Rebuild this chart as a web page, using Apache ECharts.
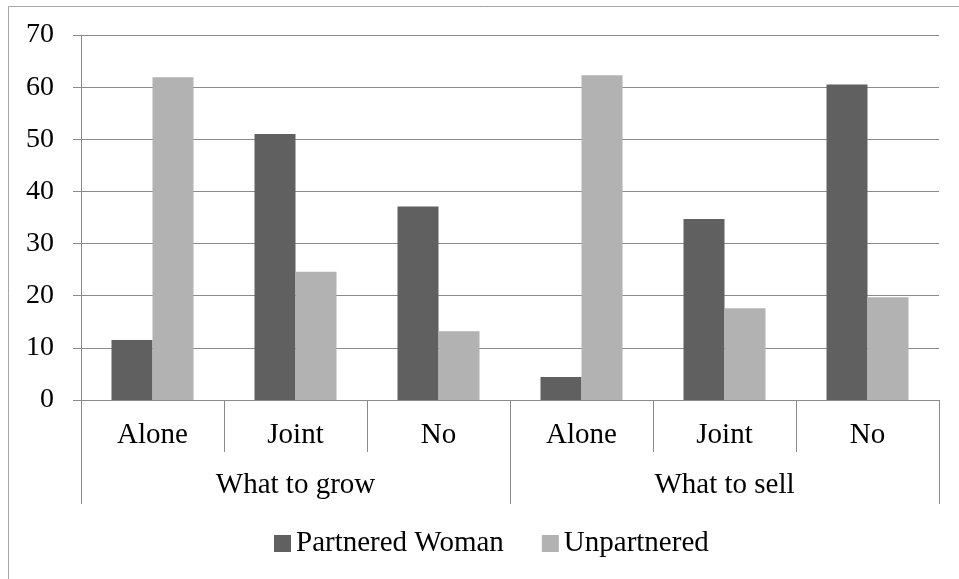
<!DOCTYPE html>
<html>
<head>
<meta charset="utf-8">
<script src="https://cdn.jsdelivr.net/npm/echarts@6/dist/echarts.min.js"></script>
<style>
html,body{margin:0;padding:0;background:#fff;}
#chart{width:959px;height:579px;}
</style>
</head>
<body>
<div id="chart"></div>
<script>
const categories = ['Alone', 'Joint', 'No', 'Alone', 'Joint', 'No'];
const groups = ['What to grow', 'What to sell'];
const seriesNames = ['Partnered Woman', 'Unpartnered'];
const partnered = [11.5, 51.0, 37.1, 4.4, 34.7, 60.5];
const unpartnered = [61.9, 24.6, 13.2, 62.3, 17.6, 19.7];
const yTicks = { min: 0, max: 70, interval: 10 };

const FONT = "'Liberation Serif', 'Times New Roman', serif";
const AXIS = '#8a8a8a';

const chart = echarts.init(document.getElementById('chart'));
chart.setOption({
  animation: false,
  backgroundColor: '#fff',
  textStyle: { fontFamily: FONT },
  graphic: [{
    type: 'rect',
    shape: { x: 8.5, y: 6.5, width: 1200, height: 1200 },
    style: { fill: 'none', stroke: '#a6a6a6', lineWidth: 1 },
    silent: true
  }],
  grid: { left: 81, right: 20, top: 35, bottom: 179, containLabel: false },
  legend: {
    data: seriesNames,
    top: 524,
    left: 269,
    itemWidth: 17,
    itemHeight: 17,
    itemGap: 38,
    icon: 'rect',
    textStyle: { fontFamily: FONT, fontSize: 29, color: '#000' }
  },
  xAxis: [{
    type: 'category',
    data: categories,
    position: 'bottom',
    axisLine: { show: true, lineStyle: { color: AXIS, width: 1 } },
    axisTick: { show: true, length: 52, lineStyle: { color: AXIS } },
    axisLabel: { fontFamily: FONT, fontSize: 29, color: '#000', margin: 21 },
    splitLine: { show: false }
  }, {
    type: 'category',
    data: groups,
    position: 'bottom',
    offset: 52,
    axisLine: { show: false },
    axisTick: { show: true, length: 52, lineStyle: { color: AXIS } },
    axisLabel: { fontFamily: FONT, fontSize: 29, color: '#000', margin: 19 },
    splitLine: { show: false }
  }],
  yAxis: {
    type: 'value',
    min: yTicks.min,
    max: yTicks.max,
    interval: yTicks.interval,
    axisLine: { show: true, lineStyle: { color: AXIS } },
    axisTick: { show: true, length: 8, lineStyle: { color: AXIS } },
    axisLabel: { fontFamily: FONT, fontSize: 28, color: '#000', margin: 27 },
    splitLine: { show: true, lineStyle: { color: AXIS, width: 1 } }
  },
  series: [{
    name: seriesNames[0],
    type: 'bar',
    data: partnered,
    barWidth: 41,
    barGap: '0%',
    itemStyle: { color: '#606060' }
  }, {
    name: seriesNames[1],
    type: 'bar',
    data: unpartnered,
    barWidth: 41,
    barGap: '0%',
    itemStyle: { color: '#b2b2b2' }
  }]
});
</script>
</body>
</html>
